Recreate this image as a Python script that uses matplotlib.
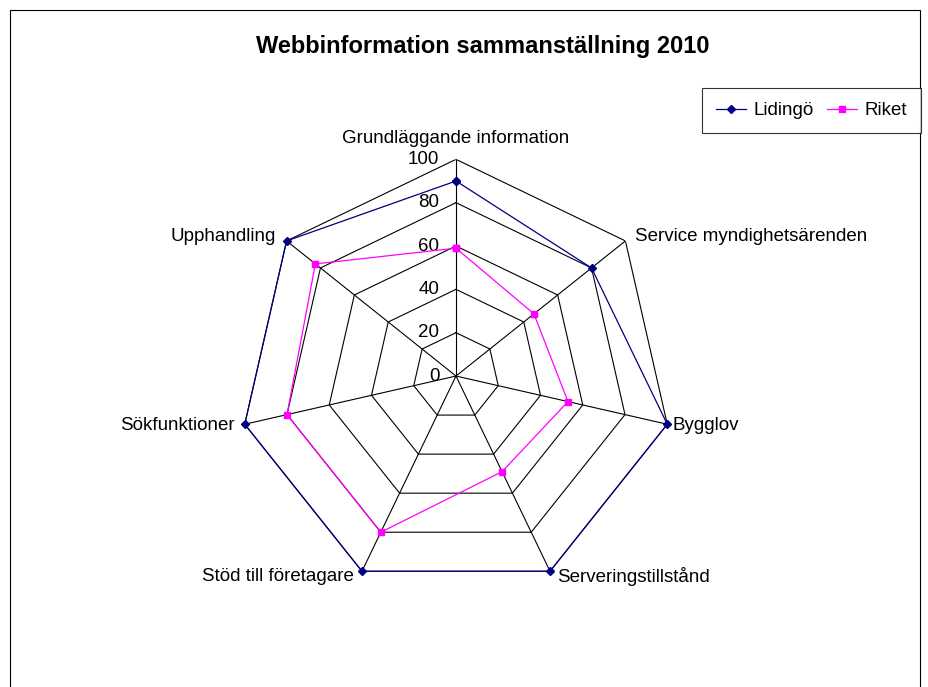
import numpy as np
import matplotlib
matplotlib.use('Agg')
import matplotlib.pyplot as plt
from matplotlib.patches import Rectangle

plt.rcParams['font.family'] = ['Liberation Sans', 'DejaVu Sans']

categories = ['Grundläggande information', 'Service myndighetsärenden', 'Bygglov',
              'Serveringstillstånd', 'Stöd till företagare', 'Sökfunktioner', 'Upphandling']
lidingo = [90, 80, 100, 100, 100, 100, 100]
riket = [59, 46, 53, 49, 80, 80, 83]
rticks = [0, 20, 40, 60, 80, 100]

# label offsets in points, (dx, dy, ha, va)
label_pos = [(0, 9, 'center', 'bottom'), (7, 3, 'left', 'center'), (4, -1, 'left', 'center'),
             (5, -4, 'left', 'center'), (-6, -4, 'right', 'center'), (-7, -1, 'right', 'center'),
             (-8, 3, 'right', 'center')]

n = len(categories)
theta = np.linspace(0, 2 * np.pi, n, endpoint=False)
tc = np.append(theta, theta[0])
fs = 13.5

fig = plt.figure(figsize=(9.29, 6.87), dpi=100)
fig.patches.append(Rectangle((10 / 929, -0.05), 910 / 929, 1.05 - 10 / 687, transform=fig.transFigure,
                             fill=False, edgecolor='black', linewidth=0.8))
fig.text(483 / 929, 1 - 46 / 687, 'Webbinformation sammanställning 2010', ha='center', va='center',
         fontsize=17, fontweight='bold')

ax = fig.add_axes([0.2576, 0.1372, 0.4665, 0.6309], projection='polar')
ax.set_theta_offset(np.pi / 2)
ax.set_theta_direction(-1)
ax.set_ylim(0, 100)
ax.grid(False)
ax.set_xticks([])
ax.set_yticks([])
ax.spines['polar'].set_visible(False)
ax.patch.set_visible(False)

for r in rticks[1:]:
    ax.plot(tc, [r] * (n + 1), color='black', linewidth=0.8, zorder=1)
for t in theta:
    ax.plot([t, t], [0, 100], color='black', linewidth=0.8, zorder=1)

for r in rticks:
    ax.annotate(str(r), xy=(0, r), xytext=(-12, 0), textcoords='offset points',
                ha='right', va='center', fontsize=fs)

for t, lab, (dx, dy, ha, va) in zip(theta, categories, label_pos):
    ax.annotate(lab, xy=(t, 100), xytext=(dx, dy), textcoords='offset points',
                ha=ha, va=va, fontsize=fs)

ax.plot(tc, lidingo + lidingo[:1], color='#000080', linewidth=0.9, marker='D', markersize=4.5,
        label='Lidingö', zorder=3, clip_on=False)
ax.plot(tc, riket + riket[:1], color='#FF00FF', linewidth=0.9, marker='s', markersize=5,
        label='Riket', zorder=3, clip_on=False)

leg = fig.legend(loc='upper right', bbox_to_anchor=(921 / 929, 1 - 88 / 687), ncol=2,
                 fontsize=fs, frameon=True, fancybox=False, borderpad=0.75, handlelength=1.6,
                 columnspacing=0.7, handletextpad=0.4, borderaxespad=0)
leg.get_frame().set_edgecolor('black')
leg.get_frame().set_linewidth(0.8)

fig.savefig('out.png', dpi=100)
